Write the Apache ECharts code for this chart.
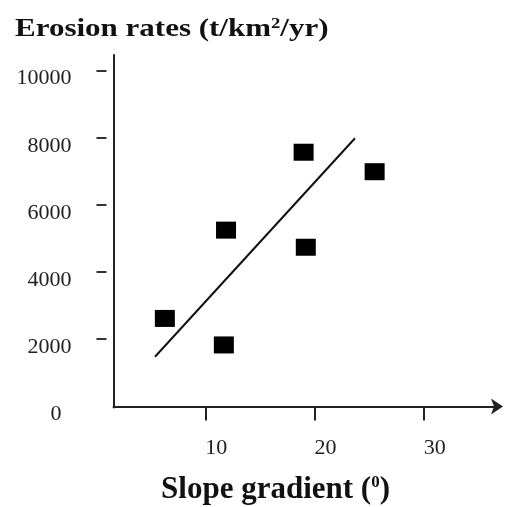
<!DOCTYPE html>
<html>
<head>
<meta charset="utf-8">
<script src="https://cdn.jsdelivr.net/npm/echarts@6/dist/echarts.min.js"></script>
<style>html,body{margin:0;padding:0;background:#fff;}#c{width:505px;height:507px;}</style>
</head>
<body>
<div id="c"></div>
<script>
// Data
var slopeDeg = [6.3, 11.7, 11.9, 19.0, 19.2, 25.5];
var erosionRate = [2620, 1830, 5250, 7570, 4740, 6990];
var trendX = [5.4, 23.7];
var trendY = [1480, 7985];
var yTickValues = [2000, 4000, 6000, 8000, 10000];
var yLabelValues = [0, 2000, 4000, 6000, 8000, 10000];
var xTickValues = [10, 20, 30];
var yTitle = 'Erosion rates (t/km{sup|2}/yr)';
var xTitle = 'Slope gradient ({sup|0})';

var points = slopeDeg.map(function (x, i) { return [x, erosionRate[i]]; });
var trend = trendX.map(function (x, i) { return [x, trendY[i]]; });

var serif = 'Liberation Serif, Times New Roman, serif';
var chart = echarts.init(document.getElementById('c'), null, { renderer: 'canvas' });
var yMin = -33, yMax = 10466;
chart.setOption({
  backgroundColor: '#fff',
  animation: false,
  graphic: [
    {
      type: 'text', x: 15, y: 42, scaleX: 1.24,
      style: {
        text: yTitle, fontFamily: serif, fontWeight: 'bold', fontSize: 25, fill: '#111',
        textAlign: 'left', textVerticalAlign: 'bottom', verticalAlign: 'bottom',
        rich: {
          sup: { fontFamily: serif, fontWeight: 'bold', fontSize: 15, fill: '#111', verticalAlign: 'top', padding: [0, 0, 8, 0] }
        }
      }
    },
    {
      type: 'text', x: 275.5, y: 505,
      style: {
        text: xTitle, fontFamily: serif, fontWeight: 'bold', fontSize: 31, fill: '#111',
        textAlign: 'center', textVerticalAlign: 'bottom', verticalAlign: 'bottom',
        rich: {
          sup: { fontFamily: serif, fontWeight: 'bold', fontSize: 17, fill: '#111', verticalAlign: 'top', padding: [0, 0, 12, 0] }
        }
      }
    }
  ],
  grid: { left: 113.5, right: 8, top: 55, bottom: 99.5, containLabel: false },
  xAxis: {
    type: 'value', min: 1.6, max: 36.7,
    splitLine: { show: false },
    axisLine: { show: true, lineStyle: { color: '#222', width: 2 }, symbol: ['none', 'arrow'], symbolSize: [12, 12], symbolOffset: [0, 6] },
    axisTick: { show: true, inside: false, length: 14, lineStyle: { color: '#222', width: 2 }, customValues: xTickValues },
    axisLabel: { show: true, customValues: xTickValues, margin: 30, fontFamily: serif, fontSize: 22, color: '#222', padding: [0, 0, 0, 22], formatter: function (v) { return String(v); } }
  },
  yAxis: [
    {
      type: 'value', min: yMin, max: yMax,
      splitLine: { show: false },
      axisLine: { show: true, lineStyle: { color: '#222', width: 2 } },
      axisTick: { show: false },
      axisLabel: { show: false }
    },
    {
      type: 'value', min: yMin, max: yMax, position: 'left', offset: 7,
      splitLine: { show: false },
      axisLine: { show: false },
      axisTick: { show: true, length: 10, lineStyle: { color: '#333', width: 2 }, customValues: yTickValues },
      axisLabel: {
        show: true, customValues: yLabelValues, margin: 35, fontFamily: serif, fontSize: 22, color: '#222',
        verticalAlign: 'top', lineHeight: 16,
        formatter: function (v) { return v === 0 ? '{z|0}' : String(v); },
        rich: { z: { fontFamily: serif, fontSize: 22, color: '#222', lineHeight: 16, padding: [0, 10, 0, 0] } }
      }
    }
  ],
  series: [
    {
      type: 'line', data: trend, yAxisIndex: 0, symbol: 'none',
      lineStyle: { color: '#111', width: 2 }, silent: true
    },
    {
      type: 'scatter', data: points, yAxisIndex: 0, symbol: 'rect', symbolSize: [20, 17],
      itemStyle: { color: '#000', opacity: 1 }
    }
  ]
});
</script>
</body>
</html>
